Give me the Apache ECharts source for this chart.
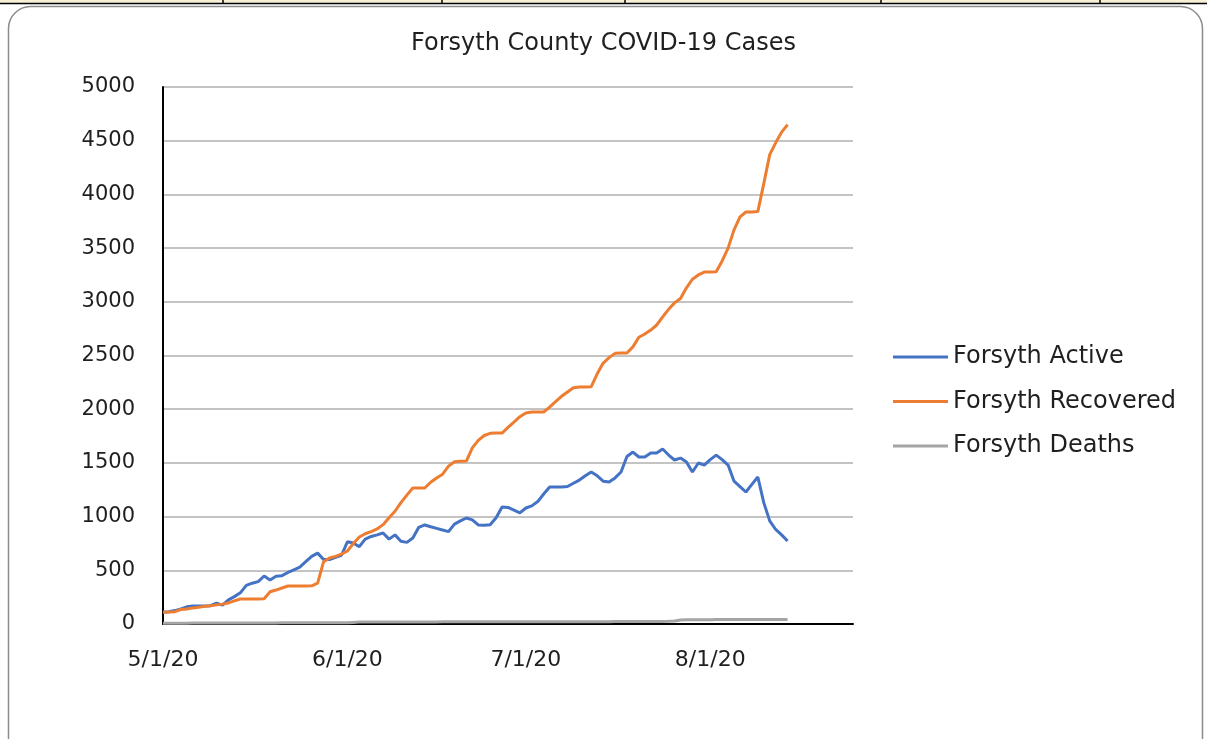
<!DOCTYPE html>
<html>
<head>
<meta charset="utf-8">
<title>Forsyth County COVID-19 Cases</title>
<script src="https://cdn.jsdelivr.net/npm/echarts@6/dist/echarts.min.js"></script>
<style>
  html, body { margin: 0; padding: 0; background: #fff; }
  #myCovidChart { width: 1207px; height: 739px; }
</style>
</head>
<body>
<div id="myCovidChart"></div>
<script>
// dates shown on the axis: 5/1/20 .. 8/25/20, one per day
let dayLabels = []
let start = new Date(2020, 4, 1)
for (let i = 0; i < 117; i++) {
  let d = new Date(start.getFullYear(), start.getMonth(), start.getDate() + i)
  dayLabels.push((d.getMonth() + 1) + '/' + d.getDate() + '/20')
}
let tickDates = ['5/1/20', '6/1/20', '7/1/20', '8/1/20']
let yTicks = [0, 500, 1000, 1500, 2000, 2500, 3000, 3500, 4000, 4500, 5000]

// daily values from 5/1/20 to 8/14/20
let activeCases = [
  110, 115, 125, 140, 160, 168, 168, 168, 170, 195,
  175, 225, 255, 290, 360, 380, 395, 447, 410, 445,
  450, 480, 505, 530, 580, 630, 660, 600, 600, 620,
  640, 765, 754, 720, 790, 815, 830, 847, 790, 830,
  770, 760, 800, 900, 922, 905, 890, 875, 860, 930,
  960, 987, 970, 922, 920, 925, 990, 1090, 1085, 1060,
  1035, 1080, 1100, 1140, 1210, 1275, 1275, 1275, 1280, 1310,
  1340, 1380, 1415, 1380, 1330, 1322, 1360, 1415, 1560, 1601,
  1555, 1555, 1592, 1592, 1629, 1573, 1527, 1545, 1508, 1415,
  1499, 1480, 1530, 1573, 1530, 1480, 1330, 1280, 1229, 1300,
  1369, 1130, 960, 880, 830, 773
]
let recoveredCases = [
  110, 112, 115, 135, 140, 150, 155, 165, 170, 178,
  185, 196, 215, 233, 233, 233, 233, 235, 300, 316,
  335, 354, 354, 354, 354, 356, 380, 580, 615, 630,
  650, 680, 750, 810, 840, 860, 885, 925, 990, 1050,
  1130, 1200, 1266, 1266, 1266, 1320, 1360, 1395, 1470, 1510,
  1515, 1517, 1640, 1710, 1755, 1775, 1778, 1778, 1830, 1880,
  1930, 1965, 1974, 1974, 1974, 2020, 2070, 2120, 2160, 2200,
  2206, 2206, 2210, 2330, 2430, 2480, 2520, 2523, 2523, 2580,
  2670, 2700, 2737, 2784, 2860, 2930, 2990, 3030, 3130, 3210,
  3250, 3277, 3277, 3280, 3380, 3500, 3670, 3790, 3836, 3836,
  3840, 4100, 4370, 4480, 4580, 4650
]
let deathCases = [
  8, 8, 8, 8, 8, 9, 9, 9, 9, 9,
  9, 10, 10, 10, 10, 10, 10, 10, 10, 10,
  11, 11, 11, 11, 11, 11, 11, 11, 12, 12,
  12, 12, 15, 18, 18, 18, 18, 18, 18, 19,
  19, 19, 19, 19, 19, 19, 19, 20, 20, 20,
  20, 20, 20, 20, 20, 20, 20, 21, 21, 21,
  21, 21, 21, 21, 21, 21, 21, 22, 22, 22,
  22, 22, 22, 22, 22, 22, 23, 23, 23, 23,
  23, 23, 23, 24, 24, 25, 28, 38, 40, 40,
  40, 40, 40, 41, 41, 41, 41, 41, 42, 42,
  42, 42, 42, 42, 42, 42
]

let myChart = echarts.init(document.getElementById('myCovidChart'))
myChart.setOption({
  animation: false,
  textStyle: { fontFamily: 'DejaVu Sans, Arial, sans-serif' },
  title: {
    text: 'Forsyth County COVID-19 Cases',
    left: 'center',
    top: 27,
    textStyle: { fontSize: 24, fontWeight: 'normal', color: '#1f1f1f', fontFamily: 'DejaVu Sans' }
  },
  graphic: [
    { type: 'rect', shape: { x: 0, y: 0, width: 1207, height: 3 }, style: { fill: '#f6f1d6' }, silent: true },
    { type: 'line', shape: { x1: 0, y1: 3.5, x2: 1207, y2: 3.5 }, style: { stroke: '#000', lineWidth: 1.5 }, silent: true },
    { type: 'line', shape: { x1: 223, y1: 0, x2: 223, y2: 4 }, style: { stroke: '#000', lineWidth: 1.5 }, silent: true },
    { type: 'line', shape: { x1: 442, y1: 0, x2: 442, y2: 4 }, style: { stroke: '#000', lineWidth: 1.5 }, silent: true },
    { type: 'line', shape: { x1: 625, y1: 0, x2: 625, y2: 4 }, style: { stroke: '#000', lineWidth: 1.5 }, silent: true },
    { type: 'line', shape: { x1: 881, y1: 0, x2: 881, y2: 4 }, style: { stroke: '#000', lineWidth: 1.5 }, silent: true },
    { type: 'line', shape: { x1: 1100, y1: 0, x2: 1100, y2: 4 }, style: { stroke: '#000', lineWidth: 1.5 }, silent: true },
    {
      type: 'rect',
      shape: { x: 8.5, y: 6.5, width: 1194, height: 760, r: 22 },
      style: { fill: 'none', stroke: '#8c8c8c', lineWidth: 1.5 },
      silent: true
    }
  ],
  legend: {
    orient: 'vertical',
    left: 888,
    top: 340,
    itemWidth: 55,
    itemHeight: 3,
    itemGap: 20.5,
    icon: 'rect',
    textStyle: { fontSize: 24, color: '#1f1f1f', fontFamily: 'DejaVu Sans' },
    data: ['Forsyth Active', 'Forsyth Recovered', 'Forsyth Deaths']
  },
  grid: {
    left: 163,
    right: 354,
    top: 87,
    bottom: 115
  },
  xAxis: {
    type: 'category',
    data: dayLabels,
    boundaryGap: false,
    axisLine: { lineStyle: { color: '#000', width: 2 } },
    axisTick: { show: false },
    axisLabel: {
      fontSize: 22,
      color: '#1f1f1f',
      fontFamily: 'DejaVu Sans',
      margin: 25,
      interval: function (index, value) {
        return tickDates.indexOf(value) !== -1
      }
    },
    splitLine: { show: false }
  },
  yAxis: {
    type: 'value',
    min: yTicks[0],
    max: yTicks[yTicks.length - 1],
    interval: 500,
    axisLine: { show: true, lineStyle: { color: '#000', width: 2 } },
    axisTick: { show: false },
    axisLabel: {
      fontSize: 21,
      color: '#1f1f1f',
      fontFamily: 'DejaVu Sans',
      margin: 28,
      formatter: function (v) { return String(v) }
    },
    splitLine: { lineStyle: { color: '#c4c4c4', width: 2 } }
  },
  series: [
    {
      name: 'Forsyth Active',
      type: 'line',
      color: '#4472c4',
      data: activeCases,
      showSymbol: false,
      lineStyle: { width: 3 }
    },
    {
      name: 'Forsyth Recovered',
      type: 'line',
      color: '#ed7d31',
      data: recoveredCases,
      showSymbol: false,
      lineStyle: { width: 3 }
    },
    {
      name: 'Forsyth Deaths',
      type: 'line',
      color: '#a5a5a5',
      data: deathCases,
      showSymbol: false,
      lineStyle: { width: 3 }
    }
  ]
})
</script>
</body>
</html>
